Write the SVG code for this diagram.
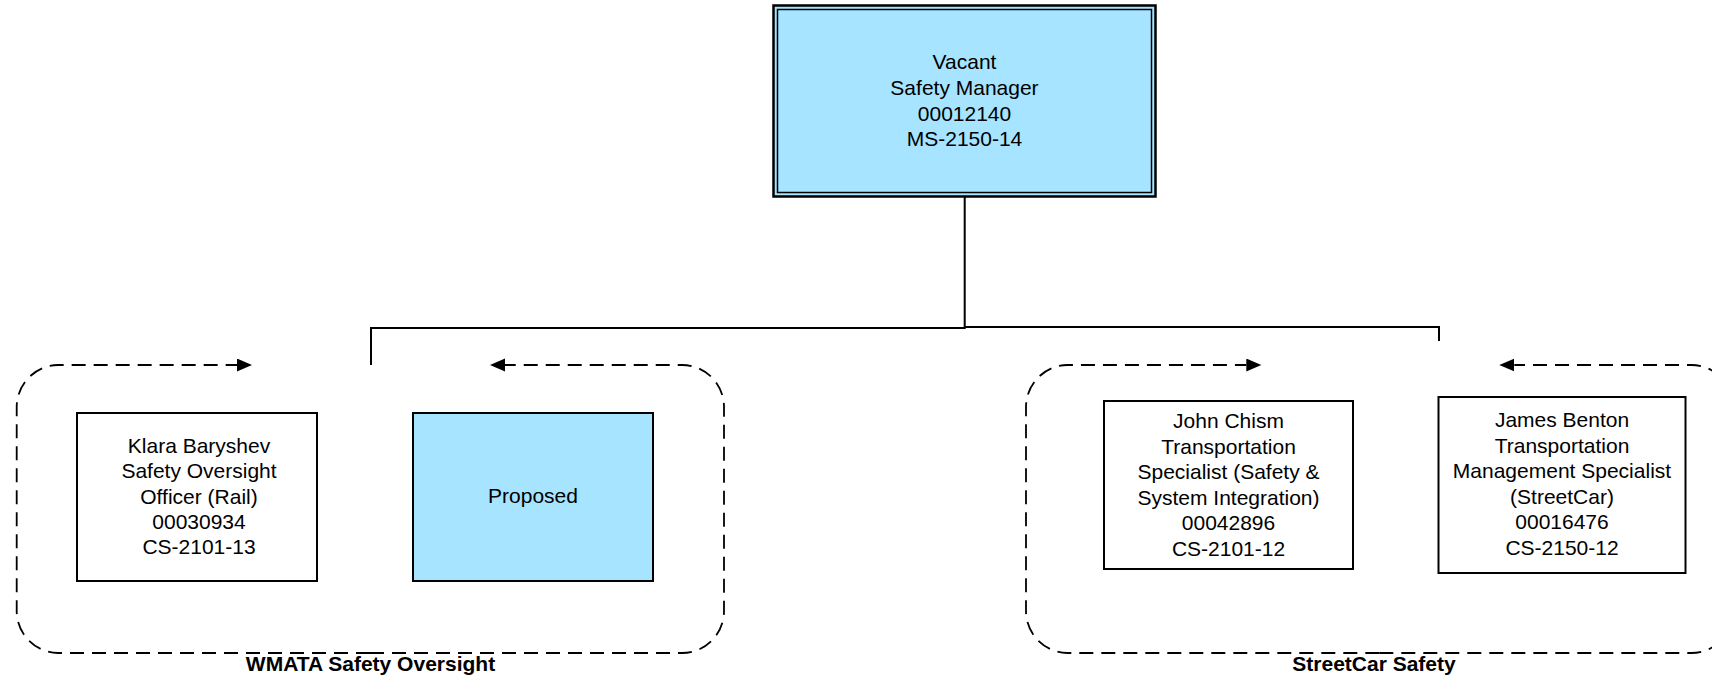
<svg xmlns="http://www.w3.org/2000/svg" width="1712" height="681" viewBox="0 0 1712 681">
<style>
  text { font-family: "Liberation Sans", Arial, sans-serif; font-size: 21px; fill: #000; text-anchor: middle; }
  .lbl { font-weight: bold; }
  .box { fill: #fff; stroke: #000; stroke-width: 2; }
  .blue { fill: #A6E4FF; }
  .conn { fill: none; stroke: #000; stroke-width: 2; }
  .dash { fill: none; stroke: #000; stroke-width: 1.8; stroke-dasharray: 14 8; }
</style>
<defs>
  <marker id="arr" markerUnits="userSpaceOnUse" markerWidth="16" markerHeight="14" refX="0" refY="6.5" orient="auto">
    <path d="M0,0 L15,6.5 L0,13 z" fill="#000"/>
  </marker>
  <g id="loop">
    <path class="dash" d="M370,653 L58,653 A42,42 0 0 1 16.7,611 L16.7,407 A42,42 0 0 1 58,365 L237,365" marker-end="url(#arr)"/>
    <path class="dash" d="M370,653 L682,653 A42,42 0 0 0 724,611 L724,407 A42,42 0 0 0 682,365 L505,365" marker-end="url(#arr)"/>
  </g>
</defs>

<g id="connectors">
  <path class="conn" d="M964.7,197 L964.7,328 L371,328 L371,365"/>
  <path class="conn" d="M964.7,327 L1439,327 L1439,341"/>
  <use href="#loop"/>
  <use href="#loop" transform="translate(1009.3,0)"/>
</g>

<g id="manager">
  <rect x="773.5" y="5.5" width="382" height="191" class="blue" stroke="#000" stroke-width="2.5"/>
  <rect x="777.5" y="9.5" width="374" height="183" class="blue" stroke="#000" stroke-width="1.5"/>
  <text x="964.5" y="69">Vacant</text>
  <text x="964.5" y="95">Safety Manager</text>
  <text x="964.5" y="120.5">00012140</text>
  <text x="964.5" y="146">MS-2150-14</text>
</g>

<g id="klara">
  <rect x="77" y="413" width="240" height="168" class="box"/>
  <text x="199" y="453">Klara Baryshev</text>
  <text x="199" y="478">Safety Oversight</text>
  <text x="199" y="503.5">Officer (Rail)</text>
  <text x="199" y="528.5">00030934</text>
  <text x="199" y="554">CS-2101-13</text>
</g>

<g id="proposed">
  <rect x="413" y="413" width="240" height="168" class="box blue"/>
  <text x="533" y="503">Proposed</text>
</g>

<g id="john">
  <rect x="1104" y="401" width="249" height="168" class="box"/>
  <text x="1228.5" y="428">John Chism</text>
  <text x="1228.5" y="453.5">Transportation</text>
  <text x="1228.5" y="479">Specialist (Safety &amp;</text>
  <text x="1228.5" y="504.5">System Integration)</text>
  <text x="1228.5" y="530">00042896</text>
  <text x="1228.5" y="555.5">CS-2101-12</text>
</g>

<g id="james">
  <rect x="1438.5" y="397" width="247" height="176" class="box"/>
  <text x="1562" y="427">James Benton</text>
  <text x="1562" y="452.5">Transportation</text>
  <text x="1562" y="478">Management Specialist</text>
  <text x="1562" y="503.5">(StreetCar)</text>
  <text x="1562" y="529">00016476</text>
  <text x="1562" y="554.5">CS-2150-12</text>
</g>

<g id="group-labels">
  <text class="lbl" x="370.5" y="671">WMATA Safety Oversight</text>
  <text class="lbl" x="1374" y="671">StreetCar Safety</text>
</g>
</svg>
